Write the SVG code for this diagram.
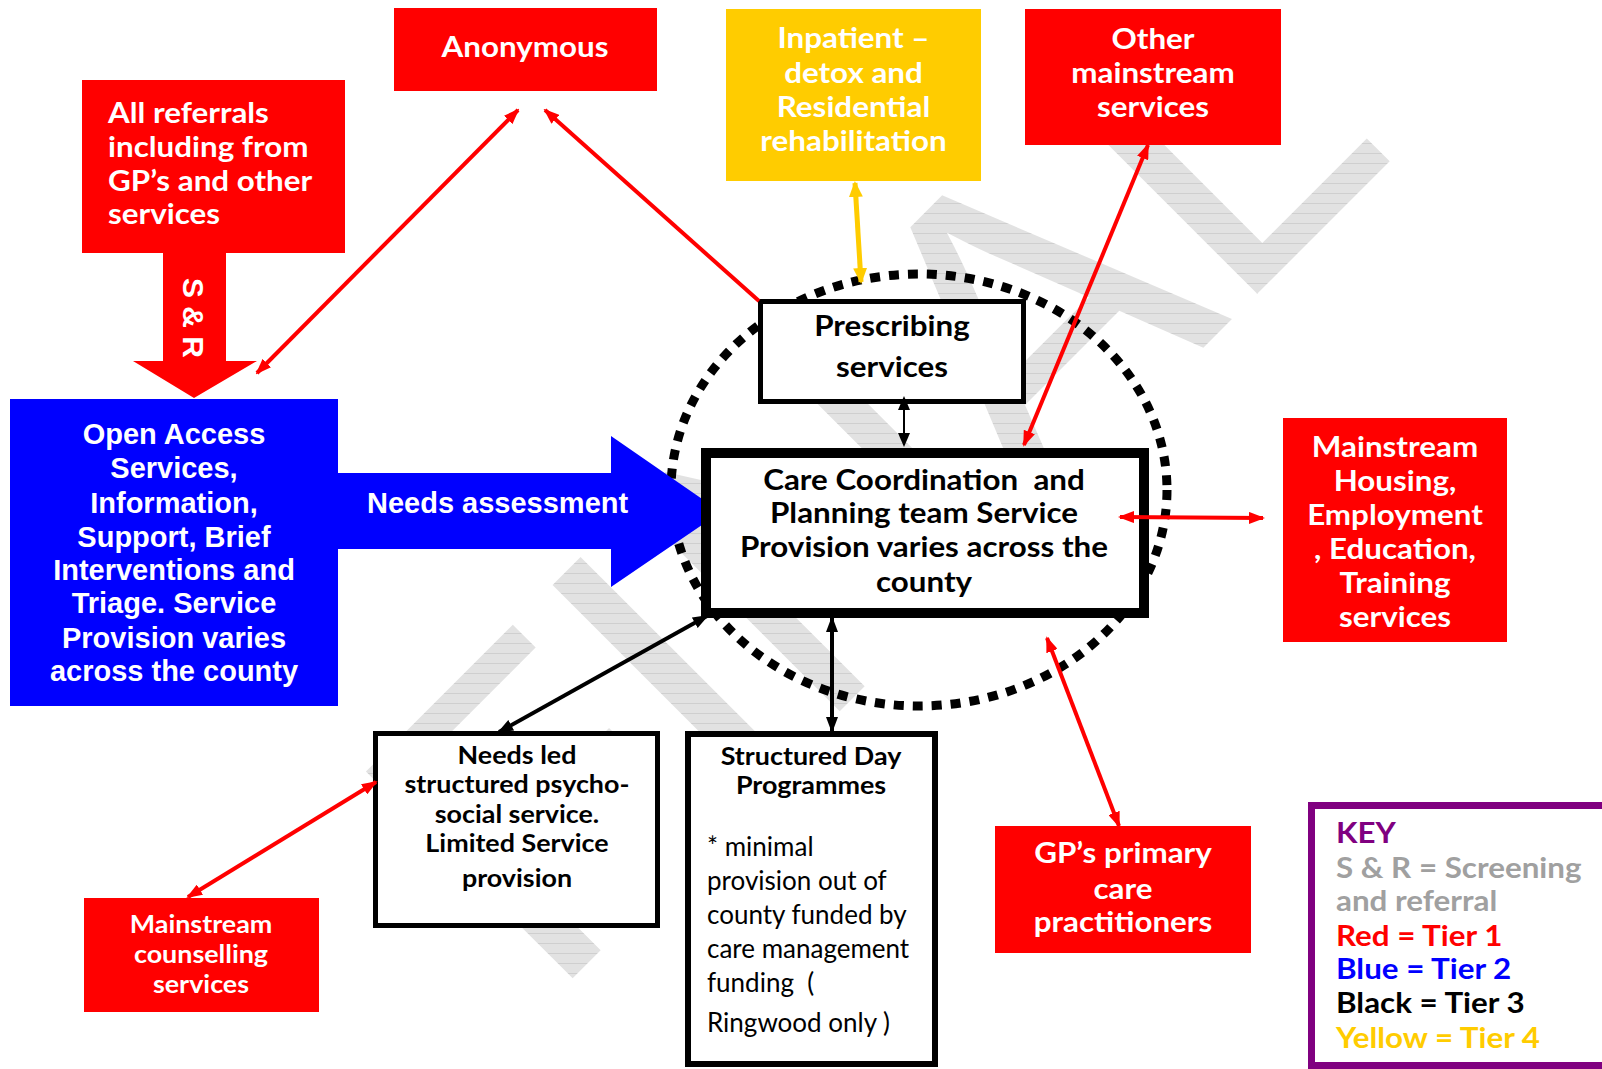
<svg xmlns="http://www.w3.org/2000/svg" width="1602" height="1069" viewBox="0 0 1602 1069">
<defs>
<style>
.g{font-family:Lato,"Open Sans","DejaVu Sans",sans-serif;font-weight:700}
.gr{font-family:Lato,"Open Sans","DejaVu Sans",sans-serif;font-weight:400}
.a{font-family:"Liberation Sans",Arial,sans-serif;font-weight:700}
.w{fill:#FFFFFF}
.k{fill:#000000}
.c{text-anchor:middle}
.red{fill:#FF0000}
.blk{fill:#FFFFFF;stroke:#000000}
.rl{stroke:#FF0000;stroke-width:4;fill:none}
.bl{stroke:#000000;fill:none}
.yl{stroke:#FFCC00;stroke-width:5;fill:none}
</style>
<pattern id="hatch" width="10" height="10" patternUnits="userSpaceOnUse" patternTransform="rotate(45)">
<rect width="10" height="10" fill="#E2E2E2"/>
<line x1="0" y1="0.5" x2="10" y2="0.5" stroke="#CFCFCF" stroke-width="1"/>
</pattern>
<marker id="mr" viewBox="0 0 16 12" refX="14" refY="6" markerWidth="16" markerHeight="12" markerUnits="userSpaceOnUse" orient="auto-start-reverse"><path d="M0,0 L16,6 L0,12 z" fill="#FF0000"/></marker>
<marker id="mk" viewBox="0 0 16 12" refX="14" refY="6" markerWidth="16" markerHeight="12" markerUnits="userSpaceOnUse" orient="auto-start-reverse"><path d="M0,0 L16,6 L0,12 z" fill="#000000"/></marker>
<marker id="mks" viewBox="0 0 14 12" refX="12" refY="6" markerWidth="14" markerHeight="12" markerUnits="userSpaceOnUse" orient="auto-start-reverse"><path d="M0,0 L14,6 L0,12 z" fill="#000000"/></marker>
<marker id="my" viewBox="0 0 16 14" refX="14" refY="7" markerWidth="16" markerHeight="14" markerUnits="userSpaceOnUse" orient="auto-start-reverse"><path d="M0,0 L16,7 L0,14 z" fill="#FFCC00"/></marker>
</defs>
<rect width="1602" height="1069" fill="#FFFFFF"/>

<g id="watermark">
<text x="0" y="0" transform="translate(548,1003) rotate(-45)" font-family="Liberation Sans, Arial, sans-serif" font-size="425" fill="url(#hatch)">FINAL</text>
</g>

<g id="team-circle">
<ellipse cx="919" cy="490" rx="248" ry="216" fill="none" stroke="#000000" stroke-width="9" stroke-dasharray="10 9"/>
</g>

<g id="all-referrals">
<rect x="82" y="80" width="263" height="173" class="red"/>
<polygon points="163,252 226,252 226,361 257,361 194,398 133,361 163,361" class="red"/>
<g transform="matrix(1.12,0,0,1,-12.96,0)">
<text class="g w" font-size="28" x="108" y="123">All referrals</text>
<text class="g w" font-size="28" x="108" y="157">including from</text>
<text class="g w" font-size="28" x="108" y="191">GP’s and other</text>
<text class="g w" font-size="28" x="108" y="224">services</text>
</g>
<text class="a w c" font-size="30" x="0" y="11" transform="translate(194,318) rotate(90)">S &amp; R</text>
</g>

<g id="anonymous">
<rect x="394" y="8" width="263" height="83" class="red"/>
<text class="g w c" font-size="28" x="525" y="57" transform="matrix(1.12,0,0,1,-63,0)">Anonymous</text>
</g>

<g id="inpatient">
<rect x="726" y="9" width="255" height="172" fill="#FFCC00"/>
<g transform="matrix(1.12,0,0,1,-102.42,0)">
<text class="g w c" font-size="28" x="853.5" y="48">Inpatient –</text>
<text class="g w c" font-size="28" x="853.5" y="83">detox and</text>
<text class="g w c" font-size="28" x="853.5" y="117">Residential</text>
<text class="g w c" font-size="28" x="853.5" y="151">rehabilitation</text>
</g>
</g>

<g id="other-mainstream">
<rect x="1025" y="9" width="256" height="136" class="red"/>
<g transform="matrix(1.12,0,0,1,-138.36,0)">
<text class="g w c" font-size="28" x="1153" y="49">Other</text>
<text class="g w c" font-size="28" x="1153" y="83">mainstream</text>
<text class="g w c" font-size="28" x="1153" y="117">services</text>
</g>
</g>

<g id="open-access">
<rect x="10" y="399" width="328" height="307" fill="#0000FF"/>
<text class="a w c" font-size="29" x="174" y="444">Open Access</text>
<text class="a w c" font-size="29" x="174" y="478">Services,</text>
<text class="a w c" font-size="29" x="174" y="513">Information,</text>
<text class="a w c" font-size="29" x="174" y="547">Support, Brief</text>
<text class="a w c" font-size="29" x="174" y="580">Interventions and</text>
<text class="a w c" font-size="29" x="174" y="613">Triage. Service</text>
<text class="a w c" font-size="29" x="174" y="648">Provision varies</text>
<text class="a w c" font-size="29" x="174" y="681">across the county</text>
</g>

<g id="needs-assessment">
<polygon points="337,473 611,473 611,436 721,512 611,587 611,549 337,549" fill="#0000FF"/>
<text class="a w" font-size="29" x="367" y="513">Needs assessment</text>
</g>

<g id="prescribing">
<rect x="760.5" y="301.5" width="263" height="100" class="blk" stroke-width="5"/>
<g transform="matrix(1.12,0,0,1,-107.04,0)">
<text class="g k c" font-size="28" x="892" y="336">Prescribing</text>
<text class="g k c" font-size="28" x="892" y="377">services</text>
</g>
</g>

<g id="care-coordination">
<rect x="706" y="453" width="438" height="160" class="blk" stroke-width="10"/>
<g transform="matrix(1.12,0,0,1,-110.88,0)">
<text class="g k c" font-size="28" x="924" y="490" xml:space="preserve">Care Coordination  and</text>
<text class="g k c" font-size="28" x="924" y="523">Planning team Service</text>
<text class="g k c" font-size="28" x="924" y="557">Provision varies across the</text>
<text class="g k c" font-size="28" x="924" y="592">county</text>
</g>
</g>

<g id="mainstream-housing">
<rect x="1283" y="418" width="224" height="224" class="red"/>
<g transform="matrix(1.12,0,0,1,-167.4,0)">
<text class="g w c" font-size="28" x="1395" y="457">Mainstream</text>
<text class="g w c" font-size="28" x="1395" y="491">Housing,</text>
<text class="g w c" font-size="28" x="1395" y="525">Employment</text>
<text class="g w c" font-size="28" x="1395" y="559">, Education,</text>
<text class="g w c" font-size="28" x="1395" y="593">Training</text>
<text class="g w c" font-size="28" x="1395" y="627">services</text>
</g>
</g>

<g id="needs-led">
<rect x="375.5" y="733.5" width="282" height="192" class="blk" stroke-width="5"/>
<g transform="matrix(1.12,0,0,1,-62.04,0)">
<text class="g k c" font-size="24" x="517" y="764">Needs led</text>
<text class="g k c" font-size="24" x="517" y="793">structured psycho-</text>
<text class="g k c" font-size="24" x="517" y="823">social service.</text>
<text class="g k c" font-size="24" x="517" y="852">Limited Service</text>
<text class="g k c" font-size="24" x="517" y="887">provision</text>
</g>
</g>

<g id="structured-day">
<rect x="688" y="734" width="247" height="330" class="blk" stroke-width="6"/>
<g transform="matrix(1.12,0,0,1,-97.32,0)">
<text class="g k c" font-size="24" x="811" y="765">Structured Day</text>
<text class="g k c" font-size="24" x="811" y="794">Programmes</text>
</g>
<text class="gr k" font-size="26" x="707" y="856">* minimal</text>
<text class="gr k" font-size="26" x="707" y="890">provision out of</text>
<text class="gr k" font-size="26" x="707" y="924">county funded by</text>
<text class="gr k" font-size="26" x="707" y="958">care management</text>
<text class="gr k" font-size="26" x="707" y="992" xml:space="preserve">funding  (</text>
<text class="gr k" font-size="26" x="707" y="1032">Ringwood only )</text>
</g>

<g id="gp-primary-care">
<rect x="995" y="826" width="256" height="127" class="red"/>
<g transform="matrix(1.12,0,0,1,-134.76,0)">
<text class="g w c" font-size="28" x="1123" y="863">GP’s primary</text>
<text class="g w c" font-size="28" x="1123" y="899">care</text>
<text class="g w c" font-size="28" x="1123" y="932">practitioners</text>
</g>
</g>

<g id="mainstream-counselling">
<rect x="84" y="898" width="235" height="114" class="red"/>
<g transform="matrix(1.12,0,0,1,-24.12,0)">
<text class="g w c" font-size="24" x="201" y="933">Mainstream</text>
<text class="g w c" font-size="24" x="201" y="963">counselling</text>
<text class="g w c" font-size="24" x="201" y="993">services</text>
</g>
</g>

<g id="key">
<rect x="1311.5" y="805.5" width="330" height="260" fill="#FFFFFF" stroke="#800080" stroke-width="7"/>
<g transform="matrix(1.12,0,0,1,-160.32,0)">
<text class="g" font-size="28" x="1336" y="843" fill="#800080">KEY</text>
<text class="g" font-size="28" x="1336" y="878" fill="#A0A0A0">S &amp; R = Screening</text>
<text class="g" font-size="28" x="1336" y="911" fill="#A0A0A0">and referral</text>
<text class="g" font-size="28" x="1336" y="946" fill="#FF0000">Red = Tier 1</text>
<text class="g" font-size="28" x="1336" y="979" fill="#0000FF">Blue = Tier 2</text>
<text class="g" font-size="28" x="1336" y="1013" fill="#000000">Black = Tier 3</text>
<text class="g" font-size="28" x="1336" y="1048" fill="#FFCC00">Yellow = Tier 4</text>
</g>
</g>

<g id="connectors">
<line x1="518" y1="110" x2="257" y2="373" class="rl" marker-start="url(#mr)" marker-end="url(#mr)"/>
<line x1="759" y1="301" x2="545" y2="110" class="rl" marker-end="url(#mr)"/>
<line x1="855" y1="183" x2="861" y2="282" class="yl" marker-start="url(#my)" marker-end="url(#my)"/>
<line x1="1148" y1="145" x2="1024" y2="445" class="rl" marker-start="url(#mr)" marker-end="url(#mr)"/>
<line x1="904" y1="398" x2="904" y2="445" class="bl" stroke-width="2" marker-start="url(#mks)" marker-end="url(#mks)"/>
<line x1="1120" y1="517" x2="1263" y2="518" class="rl" marker-start="url(#mr)" marker-end="url(#mr)"/>
<line x1="1047" y1="638" x2="1119" y2="826" class="rl" marker-start="url(#mr)" marker-end="url(#mr)"/>
<line x1="832" y1="618" x2="832" y2="731" class="bl" stroke-width="4" marker-start="url(#mk)" marker-end="url(#mk)"/>
<line x1="707" y1="616" x2="499" y2="732" class="bl" stroke-width="4" marker-start="url(#mk)" marker-end="url(#mk)"/>
<line x1="188" y1="897" x2="376" y2="782" class="rl" marker-start="url(#mr)" marker-end="url(#mr)"/>
</g>
</svg>
